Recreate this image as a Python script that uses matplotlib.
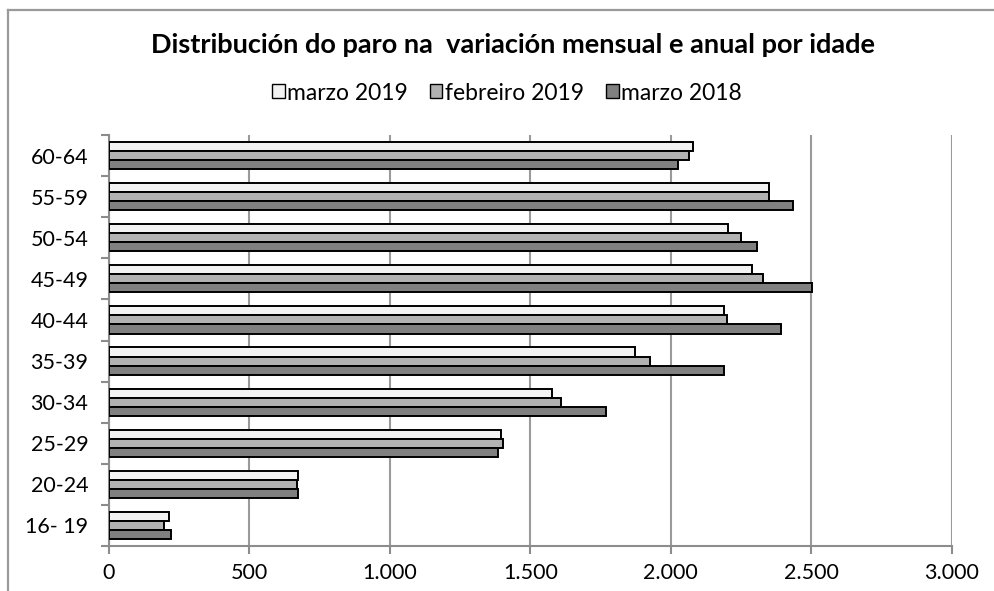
import matplotlib
matplotlib.use("Agg")
import matplotlib.pyplot as plt
import numpy as np
from matplotlib.lines import Line2D

categories = ["16- 19", "20-24", "25-29", "30-34", "35-39", "40-44", "45-49", "50-54", "55-59", "60-64"]
marzo_2019 = [215, 673, 1395, 1576, 1873, 2190, 2289, 2203, 2349, 2080]
febreiro_2019 = [196, 672, 1404, 1611, 1927, 2201, 2329, 2251, 2349, 2063]
marzo_2018 = [222, 673, 1387, 1770, 2189, 2393, 2502, 2306, 2433, 2025]
series_names = ["marzo 2019", "febreiro 2019", "marzo 2018"]
colors = ["#f2f2f2", "#b2b2b2", "#808080"]
xticks = [0, 500, 1000, 1500, 2000, 2500, 3000]
xticklabels = ["0", "500", "1.000", "1.500", "2.000", "2.500", "3.000"]
title = "Distribución do paro na  variación mensual e anual por idade"

plt.rcParams['font.family'] = ['Lato', 'DejaVu Sans']

W, H = 994, 591
fig = plt.figure(figsize=(W / 100, H / 100), dpi=100)

# chart border (only left and top visible; cropped at right/bottom)
fig.add_artist(Line2D([8 / W, 8 / W], [0, 1 - 10 / H], transform=fig.transFigure,
                      color="#9a9a9a", linewidth=1.6))
fig.add_artist(Line2D([8 / W, 1], [1 - 10 / H, 1 - 10 / H], transform=fig.transFigure,
                      color="#9a9a9a", linewidth=1.6))

left, right, top, bottom = 108.5, 952, 135, 546
ax = fig.add_axes([left / W, 1 - bottom / H, (right - left) / W, (bottom - top) / H])

y = np.arange(len(categories))
h = 0.22
for i, (vals, name, col) in enumerate(zip([marzo_2019, febreiro_2019, marzo_2018], series_names, colors)):
    ax.barh(y + (1 - i) * h, vals, height=h, color=col, edgecolor="black", linewidth=1.4,
            label=name, zorder=3)

ax.set_xlim(0, 3000)
ax.set_ylim(-0.5, len(categories) - 0.5)
ax.set_xticks(xticks)
ax.set_xticklabels(xticklabels, fontsize=15.5)
ax.set_yticks(y)
ax.set_yticklabels(categories, fontsize=15.5)
ax.set_yticks(np.arange(-0.5, len(categories)), minor=True)
ax.tick_params(axis="y", which="major", length=0, pad=14.5)
ax.tick_params(axis="y", which="minor", length=6, width=1.5, color="#8c8c8c", direction="out")
ax.tick_params(axis="x", length=6, width=1.5, color="#8c8c8c", direction="out", pad=6)
ax.grid(axis="x", color="#9a9a9a", linewidth=1.5, zorder=0)
for s in ["top", "right"]:
    ax.spines[s].set_visible(False)
for s in ["left", "bottom"]:
    ax.spines[s].set_color("#8c8c8c")
    ax.spines[s].set_linewidth(1.5)

fig.text(513 / W, 1 - 45 / H, title, ha="center", va="center", fontsize=19.5, fontweight="bold")

leg = fig.legend(loc="center", bbox_to_anchor=(507 / W, 1 - 93 / H), ncol=3, frameon=False,
                 fontsize=16.5, handlelength=0.55, handleheight=0.55, handletextpad=0.12,
                 columnspacing=0.95, borderaxespad=0, borderpad=0)
for p in leg.get_patches():
    p.set_linewidth(1.0)

fig.savefig("out.png", dpi=100)
